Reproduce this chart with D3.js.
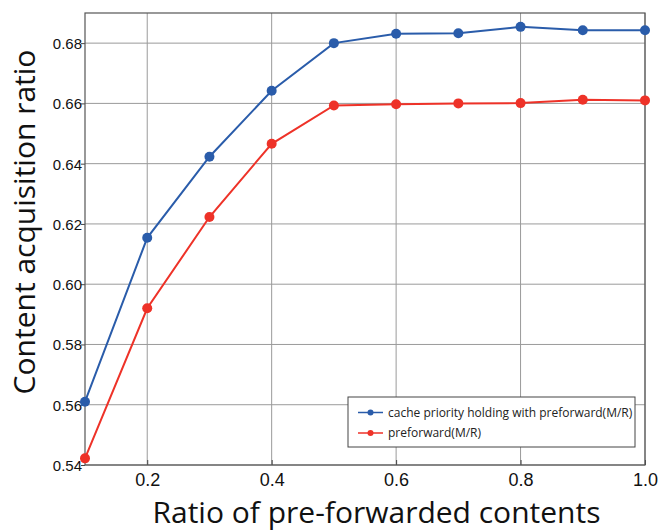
<!DOCTYPE html>
<html>
<head>
<meta charset="utf-8">
<script src="https://cdn.jsdelivr.net/npm/d3@7"></script>
<style>
  body { margin: 0; background: #fff; }
  svg { display: block; }
</style>
</head>
<body>
<div id="chart"></div>
<script>
// ratio of pre-forwarded contents
var ratios = [0.1, 0.2, 0.3, 0.4, 0.5, 0.6, 0.7, 0.8, 0.9, 1.0];
var cacheHolding = [0.561, 0.6154, 0.6423, 0.6642, 0.680, 0.6831, 0.6833, 0.6854, 0.6843, 0.6843];
var preforward = [0.5422, 0.5920, 0.6223, 0.6466, 0.6593, 0.6597, 0.6600, 0.6601, 0.6612, 0.6610];
var seriesNames = ["cache priority holding with preforward(M/R)", "preforward(M/R)"];
var xTicks = [0.2, 0.4, 0.6, 0.8, 1.0];
var yTicks = [0.54, 0.56, 0.58, 0.60, 0.62, 0.64, 0.66, 0.68];

var width = 658, height = 532;
var plotL = 85, plotR = 645, plotT = 13, plotB = 465;

var svg = d3.select("#chart").append("svg")
  .attr("width", width)
  .attr("height", height);

var x = d3.scaleLinear().domain([0.1, 1.0]).range([plotL, plotR]);
var y = d3.scaleLinear().domain([0.54, 0.69]).range([plotB, plotT]);

// grid
svg.append("g").selectAll("line")
  .data(xTicks)
  .enter().append("line")
  .attr("x1", function(d) { return x(d); })
  .attr("x2", function(d) { return x(d); })
  .attr("y1", plotT).attr("y2", plotB)
  .attr("stroke", "#9a9a9a").attr("stroke-width", 1);

svg.append("g").selectAll("line")
  .data(yTicks)
  .enter().append("line")
  .attr("x1", plotL).attr("x2", plotR)
  .attr("y1", function(d) { return y(d); })
  .attr("y2", function(d) { return y(d); })
  .attr("stroke", "#9a9a9a").attr("stroke-width", 1);

// axes
var xAxis = svg.append("g")
  .attr("transform", "translate(0," + plotB + ")")
  .call(d3.axisBottom(x).tickValues(xTicks).tickFormat(d3.format(".1f")).tickSizeInner(-5).tickSizeOuter(0));
var yAxis = svg.append("g")
  .attr("transform", "translate(" + plotL + ",0)")
  .call(d3.axisLeft(y).tickValues(yTicks).tickFormat(d3.format(".2f")).tickSizeInner(4).tickSizeOuter(0));

[xAxis, yAxis].forEach(function(a) {
  a.select(".domain").remove();
  a.selectAll("line").attr("stroke", "#444");
  a.selectAll("text")
    .attr("fill", "#111")
    .style("font-family", "'Liberation Sans', Arial, sans-serif");
});
xAxis.selectAll("text").attr("dy", "0").attr("y", 21).style("font-size", "18px");
yAxis.selectAll("text").attr("x", -3).attr("dy", "0.36em").style("font-size", "15px");

// frame
svg.append("rect")
  .attr("x", plotL).attr("y", plotT)
  .attr("width", plotR - plotL).attr("height", plotB - plotT)
  .attr("fill", "none").attr("stroke", "#555").attr("stroke-width", 1.2);

var series = [
  { name: seriesNames[0], values: cacheHolding, color: "#2a5caa" },
  { name: seriesNames[1], values: preforward, color: "#ee3228" }
];

var line = d3.line()
  .x(function(d) { return x(d[0]); })
  .y(function(d) { return y(d[1]); });

series.forEach(function(s) {
  var pts = d3.zip(ratios, s.values);
  svg.append("path")
    .datum(pts)
    .attr("d", line)
    .attr("fill", "none")
    .attr("stroke", s.color)
    .attr("stroke-width", 2);
  svg.append("g").selectAll("circle")
    .data(pts)
    .enter().append("circle")
    .attr("cx", function(d) { return x(d[0]); })
    .attr("cy", function(d) { return y(d[1]); })
    .attr("r", 5)
    .attr("fill", s.color);
});

// legend
var lg = svg.append("g");
lg.append("rect")
  .attr("x", 348).attr("y", 397)
  .attr("width", 287).attr("height", 50)
  .attr("fill", "#fff").attr("stroke", "#444").attr("stroke-width", 1);
series.forEach(function(s, i) {
  var ly = 412.5 + i * 20.5;
  lg.append("line")
    .attr("x1", 358).attr("x2", 383)
    .attr("y1", ly).attr("y2", ly)
    .attr("stroke", s.color).attr("stroke-width", 1.5);
  lg.append("circle")
    .attr("cx", 370.5).attr("cy", ly).attr("r", 3)
    .attr("fill", s.color);
  lg.append("text")
    .attr("x", 388).attr("y", ly + 4)
    .style("font-family", "'Open Sans', sans-serif")
    .style("font-size", "12px")
    .attr("fill", "#222")
    .text(s.name);
});

// axis titles
svg.append("text")
  .attr("x", 376.5).attr("y", 523)
  .attr("text-anchor", "middle")
  .style("font-family", "'Open Sans', sans-serif")
  .style("font-size", "30px")
  .attr("fill", "#111")
  .text("Ratio of pre-forwarded contents");

svg.append("text")
  .attr("transform", "translate(35,222) rotate(-90)")
  .attr("text-anchor", "middle")
  .style("font-family", "'Open Sans', sans-serif")
  .style("font-size", "30px")
  .attr("fill", "#111")
  .text("Content acquisition ratio");
</script>
</body>
</html>
